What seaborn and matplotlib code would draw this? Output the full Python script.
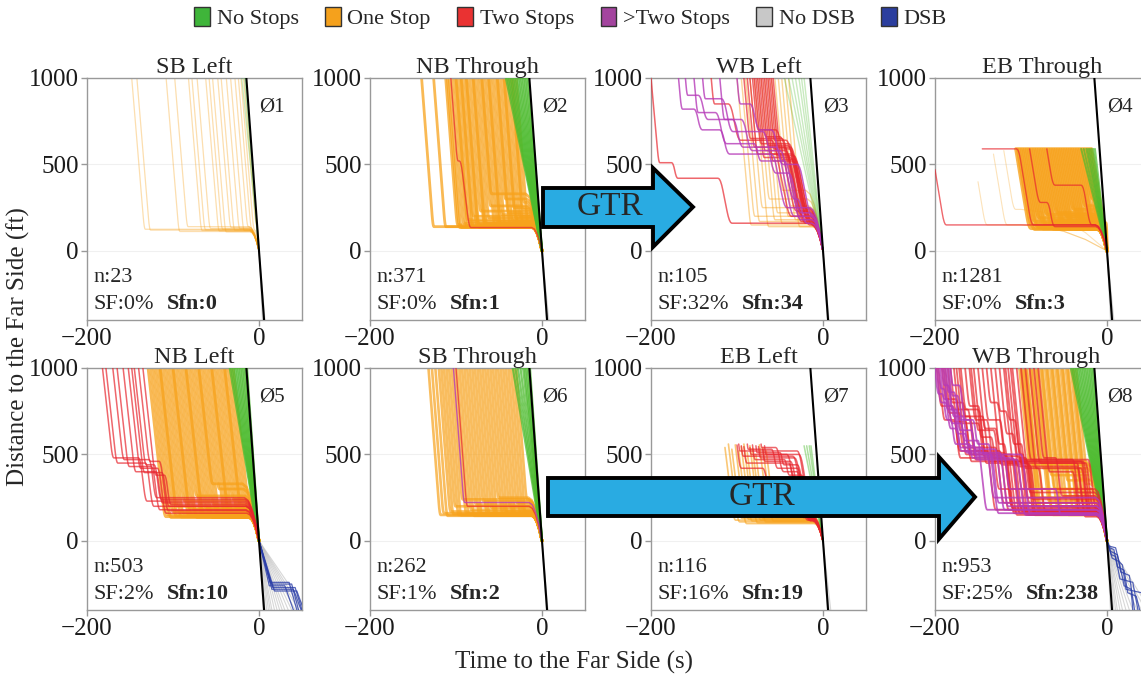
import numpy as np
import pandas as pd
import matplotlib
matplotlib.use("Agg")
import matplotlib.pyplot as plt
from matplotlib.patches import Patch, Polygon
import seaborn as sns

# ---------------- DATA ----------------
titles = ["SB Left", "NB Through", "WB Left", "EB Through",
          "NB Left", "SB Through", "EB Left", "WB Through"]
phases = ["Ø1", "Ø2", "Ø3", "Ø4", "Ø5", "Ø6", "Ø7", "Ø8"]
n_vals = [23, 371, 105, 1281, 503, 262, 116, 953]
sf_pct = [0, 0, 32, 0, 2, 1, 16, 25]
sfn_vals = [0, 1, 34, 3, 10, 2, 19, 238]

legend_labels = ["No Stops", "One Stop", "Two Stops", ">Two Stops", "No DSB", "DSB"]

# start distance of the trajectories (ft) and approach / between-stop speeds (ft/s)
panel_top = [1000, 1000, 1000, 590, 1000, 1000, 550, 1000]
panel_v = [60, 65, 55, 30, 45, 65, 40, 50]
panel_vmid = [40, 40, 25, 30, 40, 40, 30, 45]

# far-side reference line (time s, distance ft)
ref_t = [-14.7, 5.9]
ref_y = [1000, -400]

# --- Panel 1: SB Left
p1_one_t0 = [-148, -142, -108, -98, -82, -78, -72, -62, -58, -54, -48, -44, -38, -33, -28, -24, -21, -18]
p1_one_q = [125, 120, 112, 140, 118, 122, 130, 115, 125, 110, 135, 120, 128, 118, 140, 125, 122, 150]
p1_none_t0 = [-20, -17, -16]
p1_two = []
p1_multi = []
p1_exit = [4, 5, 6, 7]
p1_dsb = []

# --- Panel 2: NB Through
p2_one_t0 = [-140, -126, -112, -108, -105, -102, -99, -96, -93, -90, -87, -84, -81, -78, -75, -72, -69, -66,
             -63, -60, -57, -54, -51, -48, -45, -42, -39, -36, -33, -30, -110, -100, -94, -88, -80, -70,
             -62, -52, -44, -35]
p2_one_q = [140, 140, 150, 135, 160, 145, 180, 140, 200, 150, 135, 230, 160, 140, 190, 260, 145, 170,
            135, 210, 150, 300, 140, 175, 250, 145, 200, 160, 280, 150, 135, 170, 140, 155, 145, 330,
            140, 220, 190, 240]
p2_none_t0 = [-42, -40, -38, -36, -34, -32, -30, -28, -26, -24, -22, -20, -18, -16]
p2_two = [[-106, 1000, 520, -96, 135, -12]]
p2_multi = []
p2_exit = [5, 6, 7, 8]
p2_dsb = []

# --- Panel 3: WB Left
p3_one_t0 = [-100, -95, -90, -85, -80, -76, -72, -68, -64, -60, -56, -52, -48, -44, -40]
p3_one_q = [150, 200, 170, 250, 140, 300, 180, 220, 160, 350, 200, 260, 180, 140, 230]
p3_none_t0 = [-45, -40, -36, -32, -28, -25, -22]
p3_two = [
    [-200, 1000, 510, -176, 420, -122, 160, -14],
    [-92, 1000, 650, -48, 180, -14], [-88, 1000, 600, -45, 200, -15],
    [-85, 1000, 560, -42, 160, -13], [-82, 1000, 700, -55, 230, -16],
    [-80, 1000, 620, -40, 150, -13], [-78, 1000, 540, -38, 250, -17],
    [-76, 1000, 580, -44, 190, -15], [-74, 1000, 660, -50, 170, -14],
    [-72, 1000, 610, -41, 210, -15], [-70, 1000, 560, -36, 160, -13],
    [-68, 1000, 520, -35, 240, -16], [-66, 1000, 590, -39, 180, -14],
    [-64, 1000, 640, -43, 200, -15], [-62, 1000, 550, -34, 150, -13],
    [-60, 1000, 600, -38, 220, -15], [-58, 1000, 530, -33, 170, -14],
    [-130, 1000, 850, -110, 640, -60, 200, -14],
]
p3_multi = [
    [-168, 1000, 820, -150, 700, -120, 560, -60, 250, -15],
    [-160, 1000, 900, -145, 760, -105, 600, -55, 200, -14],
    [-150, 1000, 800, -125, 620, -80, 520, -45, 180, -13],
    [-140, 1000, 880, -118, 690, -70, 450, -40, 220, -15],
    [-120, 1000, 760, -95, 580, -50, 300, -30, 160, -13],
    [-100, 1000, 850, -85, 700, -60, 500, -30, 200, -14],
]
p3_exit = [5, 6, 7]
p3_dsb = []

# --- Panel 4: EB Through
p4_one_t0 = [-106, -104, -102, -100, -98, -96, -94, -92, -90, -88, -86, -84, -82, -80, -78, -76, -74, -72,
             -70, -68, -66, -64, -62, -60, -58, -56, -54, -52, -50, -48, -46, -44, -42, -40, -38, -36,
             -34, -32, -30, -28, -26, -24, -22, -20, -18]
p4_one_q = [130, 150, 125, 170, 140, 135, 190, 128, 160, 145, 132, 210, 150, 126, 175, 140, 138, 220,
            130, 155, 145, 128, 200, 135, 160, 150, 125, 240, 140, 130, 180, 135, 150, 128, 260, 145,
            132, 170, 140, 300, 135, 150, 190, 140, 160]
p4_none_t0 = [-30, -27, -24, -22, -20, -18, -16, -14]
p4_faint = [[-150, 400, 150, -100], [-132, 560, 150, -100], [-120, 580, 240, -100]]
p4_two = [[-200, 470, 150, -14], [-145, 590, 590, -105, 150, -14],
          [-70, 590, 380, -30, 150, -13], [-90, 590, 280, -70, 140, -13]]
p4_multi = []
p4_exit = [4, 5, 6, 7, 8]
p4_dsb = []

# --- Panel 5: NB Left
p5_one_t0 = [-129, -126, -123, -120, -117, -114, -111, -108, -105, -102, -99, -96, -93, -90, -87, -84,
             -81, -78, -75, -72, -69, -66, -63, -60, -57, -54, -51, -48, -45, -42, -39, -36, -33,
             -115, -100, -85, -70, -55, -40, -30]
p5_one_q = [140, 150, 135, 170, 145, 200, 138, 160, 230, 142, 150, 180, 136, 260, 155, 140,
            190, 148, 135, 210, 160, 140, 300, 150, 175, 138, 145, 240, 160, 135, 200, 150, 140,
            165, 185, 145, 330, 155, 170, 150]
p5_none_t0 = [-34, -32, -30, -28, -26, -24, -22, -20, -18, -16, -14]
p5_two = [
    [-182, 1000, 480, -140, 230, -16], [-178, 1000, 450, -132, 200, -15],
    [-170, 1000, 470, -128, 250, -17], [-165, 1000, 430, -125, 180, -15],
    [-158, 1000, 400, -120, 220, -16], [-152, 1000, 420, -118, 160, -14],
    [-148, 1000, 395, -113, 200, -15], [-145, 1000, 440, -122, 240, -16],
    [-140, 1000, 460, -116, 175, -15], [-135, 1000, 380, -110, 210, -16],
]
p5_multi = []
p5_exit = [5, 7, 9, 11, 13, 15, 18, 21, 24, 27, 30, 34, 38, 42, 46, 50, 55]
p5_dsb = [[0, 0, 14, -250, 38, -250, 46, -400], [0, 0, 16, -270, 42, -270, 50, -400],
          [0, 0, 12, -260, 30, -260, 40, -400], [0, 0, 18, -290, 44, -290, 52, -400],
          [0, 0, 13, -240, 35, -240, 44, -400], [0, 0, 15, -280, 40, -280, 49, -400]]

# --- Panel 6: SB Through
p6_one_t0 = [-132, -128, -124, -120, -117, -114, -111, -108, -105, -102, -99, -96, -93, -90, -87, -84,
             -81, -78, -75, -72, -69, -66, -63, -60, -57, -54, -51, -48, -45, -42, -39, -36, -33, -30]
p6_one_q = [150, 160, 145, 170, 155, 200, 150, 148, 240, 160, 152, 180, 145, 210, 158, 150,
            230, 162, 148, 190, 155, 150, 250, 160, 170, 148, 200, 155, 150, 220, 160, 175, 150, 240]
p6_none_t0 = [-34, -31, -28, -25, -22, -20, -18, -16, -14]
p6_two = [[-100, 1000, 200, -15]]
p6_multi = [[-103, 1000, 222, -15]]
p6_exit = [5, 6, 7]
p6_dsb = []

# --- Panel 7: EB Left
p7_one_t0 = [-114, -110, -106, -102, -98, -95, -92, -88, -85, -82, -78, -74, -70, -66]
p7_one_top = [540, 560, 530, 555, 520, 545, 560, 510, 550, 535, 500, 555, 540, 520]
p7_one_q = [120, 110, 130, 100, 125, 115, 140, 105, 120, 130, 110, 150, 115, 135]
p7_none_t0 = [-22, -19, -16, -14]
p7_two = [
    [-98, 560, 520, -30, 130, -12], [-95, 550, 490, -35, 120, -12],
    [-92, 545, 450, -40, 350, -28, 120, -12], [-88, 560, 530, -60, 420, -30, 130, -12],
    [-85, 540, 500, -28, 140, -13], [-82, 555, 470, -45, 380, -25, 125, -12],
    [-78, 550, 510, -50, 440, -30, 115, -12], [-75, 545, 480, -33, 130, -12],
    [-72, 560, 540, -55, 400, -30, 120, -12], [-70, 530, 460, -38, 135, -13],
    [-68, 550, 500, -42, 360, -28, 125, -12], [-100, 555, 420, -70, 300, -40, 140, -13],
]
p7_multi = []
p7_exit = [5, 7, 9]
p7_dsb = []

# --- Panel 8: WB Through
p8_one_t0 = [-102, -99, -96, -93, -90, -87, -84, -81, -78, -75, -72, -69, -66, -63, -60, -57, -54, -51,
             -48, -45, -42, -39, -36, -100, -94, -88, -82, -76, -70, -64, -58, -52, -46, -40, -97]
p8_one_q = [150, 440, 180, 300, 160, 420, 230, 150, 380, 200, 170, 460, 260, 150, 350, 190, 400, 160,
            280, 220, 170, 330, 150, 250, 170, 450, 200, 300, 160, 420, 240, 180, 360, 200, 160]
p8_none_t0 = [-42, -40, -38, -36, -34, -32, -30, -28, -26, -24, -22, -20, -18, -16]
p8_two = [
    [-198, 1000, 780, -180, 480, -120, 200, -12], [-190, 1000, 740, -172, 500, -112, 160, -12],
    [-185, 1000, 800, -168, 460, -100, 250, -13], [-175, 1000, 720, -160, 520, -125, 180, -12],
    [-170, 1000, 760, -150, 450, -105, 300, -14], [-160, 1000, 700, -140, 480, -115, 150, -12],
    [-150, 1000, 650, -130, 440, -98, 220, -13], [-140, 1000, 800, -128, 470, -108, 170, -12],
    [-130, 1000, 750, -118, 460, -30, 160, -12], [-120, 1000, 700, -108, 450, -25, 200, -13],
    [-115, 1000, 480, -95, 160, -12], [-110, 1000, 460, -28, 150, -12],
    [-105, 1000, 440, -90, 200, -13], [-100, 1000, 470, -22, 180, -12],
    [-95, 1000, 420, -80, 170, -12], [-90, 1000, 450, -35, 140, -12],
    [-85, 1000, 480, -60, 260, -14], [-80, 1000, 400, -40, 150, -12],
    [-155, 1000, 600, -135, 300, -100, 150, -12], [-135, 1000, 560, -120, 160, -12],
    [-196, 1000, 700, -178, 520, -140, 180, -12], [-192, 1000, 820, -176, 540, -130, 220, -12],
    [-188, 1000, 690, -165, 500, -118, 170, -12], [-182, 1000, 760, -162, 470, -110, 200, -13],
    [-178, 1000, 680, -150, 490, -102, 150, -12], [-172, 1000, 720, -145, 460, -96, 280, -14],
    [-165, 1000, 780, -150, 510, -120, 190, -12], [-158, 1000, 640, -132, 470, -94, 240, -13],
    [-145, 1000, 700, -125, 450, -92, 160, -12], [-125, 1000, 620, -110, 430, -35, 180, -12],
    [-118, 1000, 560, -100, 470, -40, 200, -12], [-112, 1000, 500, -98, 420, -30, 150, -12],
]
p8_multi = [
    [-200, 1000, 850, -192, 700, -182, 560, -160, 480, -110, 200, -12],
    [-198, 1000, 800, -188, 650, -175, 520, -150, 180, -12],
    [-196, 1000, 880, -190, 760, -178, 540, -145, 500, -100, 160, -12],
    [-194, 1000, 820, -186, 680, -170, 510, -140, 250, -13],
    [-192, 1000, 900, -185, 720, -168, 550, -155, 470, -105, 150, -12],
    [-190, 1000, 780, -180, 620, -165, 500, -135, 220, -12],
    [-188, 1000, 860, -178, 700, -160, 530, -130, 180, -12],
    [-186, 1000, 760, -176, 640, -158, 490, -120, 300, -60, 150, -12],
    [-184, 1000, 840, -174, 580, -150, 510, -125, 200, -12],
    [-182, 1000, 900, -172, 700, -156, 560, -138, 160, -12],
]
p8_exit = [4, 6, 8, 10, 12, 15, 18, 22, 26, 30, 35, 40, 45, 50]
p8_dsb = [[0, 0, 4, -60, 12, -80, 16, -180, 26, -200, 32, -400],
          [0, 0, 3, -40, 8, -50, 12, -150, 20, -170, 24, -300, 34, -320, 38, -400],
          [0, 0, 5, -80, 10, -90, 15, -220, 30, -240, 36, -400],
          [0, 0, 2, -30, 10, -40, 14, -120, 18, -140, 22, -280, 40, -300, 44, -400],
          [0, 0, 6, -100, 14, -120, 20, -260, 28, -280, 30, -400]]

# ---------------- STYLE ----------------
sns.set_theme(style="ticks")
plt.rcParams["font.family"] = ["Liberation Serif", "DejaVu Serif"]
plt.rcParams["axes.unicode_minus"] = True

C_NONE, C_ONE, C_TWO, C_MULTI = "#4cbb2e", "#f7a21b", "#e8262e", "#b63ab8"
C_NODSB, C_DSB = "#bdbdbd", "#2b3ea8"
LEG_COLORS = ["#3fb53a", "#f5a11c", "#ea3232", "#a3449e", "#c8c8c8", "#2b3e9e"]

S = [0.0, 0.25, 0.5, 0.75, 1.0]


def approach(t0, y0, q, v):
    d = y0 - q
    if d <= 1:
        return [(t0, y0)]
    db = min(70.0, d / 2)
    T = 2 * db / v
    tb = t0 + (d - db) / v
    pts = [(t0, y0)]
    for s in S:
        pts.append((tb + s * T, q + db * (1 - s) ** 2))
    return pts


def move(tp, yp, q, v):
    d = yp - q
    if d <= 1:
        return [(tp, yp)]
    db = min(70.0, d / 2)
    T = 2 * db / v
    tc = (d - 2 * db) / v
    pts = [(tp + s * T, yp - db * s * s) for s in S]
    t1 = tp + T + tc
    pts += [(t1 + s * T, q + db * (1 - s) ** 2) for s in S]
    return pts


def discharge(tl, q):
    return [(tl * (1 - s), q * (1 - s * s)) for s in S]


def leave_time(q):
    return -(6 + q / 25.0)


def one_path(t0, top, q, v):
    pts = approach(t0, top, q, v)
    tl = max(leave_time(q), pts[-1][0])
    pts.append((tl, q))
    return pts + discharge(tl, q)


def multi_path(rec, v, vmid):
    t0, top = rec[0], rec[1]
    stops = rec[2:]
    pts = approach(t0, top, stops[0], v)
    tl = max(stops[1], pts[-1][0])
    pts.append((tl, stops[0]))
    prev_q = stops[0]
    for k in range(2, len(stops), 2):
        q = stops[k]
        seg = move(tl, prev_q, q, vmid)
        pts += seg
        tl = max(stops[k + 1], pts[-1][0])
        pts.append((tl, q))
        prev_q = q
    return pts + discharge(tl, prev_q)


def draw(ax, paths, color, alpha, lw, z):
    if not paths:
        return
    rows = []
    for i, p in enumerate(paths):
        for (t, y) in p:
            rows.append((i, t, y))
    df = pd.DataFrame(rows, columns=["uid", "t", "y"])
    sns.lineplot(data=df, x="t", y="y", units="uid", estimator=None, sort=False,
                 color=color, alpha=alpha, lw=lw, ax=ax, legend=False, zorder=z)


panels = [
    dict(one_t0=p1_one_t0, one_q=p1_one_q, none_t0=p1_none_t0, two=p1_two, multi=p1_multi, exit=p1_exit, dsb=p1_dsb),
    dict(one_t0=p2_one_t0, one_q=p2_one_q, none_t0=p2_none_t0, two=p2_two, multi=p2_multi, exit=p2_exit, dsb=p2_dsb),
    dict(one_t0=p3_one_t0, one_q=p3_one_q, none_t0=p3_none_t0, two=p3_two, multi=p3_multi, exit=p3_exit, dsb=p3_dsb),
    dict(one_t0=p4_one_t0, one_q=p4_one_q, none_t0=p4_none_t0, two=p4_two, multi=p4_multi, exit=p4_exit, dsb=p4_dsb,
         faint=p4_faint),
    dict(one_t0=p5_one_t0, one_q=p5_one_q, none_t0=p5_none_t0, two=p5_two, multi=p5_multi, exit=p5_exit, dsb=p5_dsb),
    dict(one_t0=p6_one_t0, one_q=p6_one_q, none_t0=p6_none_t0, two=p6_two, multi=p6_multi, exit=p6_exit, dsb=p6_dsb),
    dict(one_t0=p7_one_t0, one_q=p7_one_q, one_top=p7_one_top, none_t0=p7_none_t0, two=p7_two, multi=p7_multi,
         exit=p7_exit, dsb=p7_dsb),
    dict(one_t0=p8_one_t0, one_q=p8_one_q, none_t0=p8_none_t0, two=p8_two, multi=p8_multi, exit=p8_exit, dsb=p8_dsb),
]
one_alpha = [0.35, 0.75, 0.45, 0.8, 0.75, 0.7, 0.6, 0.7]
one_lw = [0.9, 2.0, 1.0, 2.4, 2.0, 1.9, 1.2, 1.8]
none_alpha = [0.3, 0.75, 0.3, 0.7, 0.75, 0.75, 0.45, 0.75]
none_lw = [0.9, 1.6, 1.0, 1.4, 1.6, 1.6, 1.1, 1.6]
stop_lw = [1.0, 1.0, 1.1, 1.0, 1.1, 1.0, 1.1, 1.3]
title_x = [0.5, 0.5, 0.5, 0.5, 0.5, 0.5, 0.5, 0.47]

# ---------------- FIGURE ----------------
W, H = 1141, 679
fig = plt.figure(figsize=(W / 100, H / 100), dpi=100)

lefts_px = [87, 370, 651, 935]
ax_w = 215 / W
ax_h = 242 / H
bottoms = [1 - 320 / H, 1 - 610 / H]

for idx, pdat in enumerate(panels):
    r, c = divmod(idx, 4)
    ax = fig.add_axes([lefts_px[c] / W, bottoms[r], ax_w, ax_h])
    top = panel_top[idx]
    v = panel_v[idx]
    vmid = panel_vmid[idx]

    # after far side: no DSB
    draw(ax, [[(0, 0), (te, -400)] for te in pdat["exit"]], C_NODSB, 0.6, 0.8, 1)
    # one stop
    tops = pdat.get("one_top", [top] * len(pdat["one_t0"]))
    draw(ax, [one_path(t0, tp, q, v) for t0, tp, q in zip(pdat["one_t0"], tops, pdat["one_q"])],
         C_ONE, one_alpha[idx], one_lw[idx], 2)
    if "faint" in pdat:
        draw(ax, [multi_path(rec, v, vmid) for rec in pdat["faint"]], C_ONE, 0.3, 0.8, 2)
    # no stops
    draw(ax, [[(t0, top), (0, 0)] for t0 in pdat["none_t0"]], C_NONE, none_alpha[idx], none_lw[idx], 3)
    # two stops
    draw(ax, [multi_path(rec, v, vmid) for rec in pdat["two"]], C_TWO, 0.7, stop_lw[idx], 4)
    # more than two stops
    draw(ax, [multi_path(rec, v, vmid) for rec in pdat["multi"]], C_MULTI, 0.8, stop_lw[idx], 5)
    # DSB
    draw(ax, [list(zip(rec[0::2], rec[1::2])) for rec in pdat["dsb"]], C_DSB, 0.8, 0.9, 5)
    # far-side reference line
    sns.lineplot(x=ref_t, y=ref_y, color="black", lw=1.5, ax=ax, zorder=6, sort=False)

    ax.set_xlim(-200, 50)
    ax.set_ylim(-400, 1000)
    ax.set_xticks([-200, 0])
    ax.set_yticks([0, 500, 1000])
    ax.set_xlabel("")
    ax.set_ylabel("")
    ax.grid(axis="y", color="#f0f0f0", lw=0.8, zorder=0)
    ax.set_axisbelow(True)
    for sp in ax.spines.values():
        sp.set_color("#999999")
        sp.set_linewidth(1.0)
        sp.set_visible(True)
    ax.tick_params(axis="both", length=4, width=1, color="#999999", labelcolor="#1a1a1a",
                   labelsize=18, pad=2)
    ax.set_title(titles[idx], fontsize=17.5, pad=0.5, x=title_x[idx])

    ax.text(0.80, 0.88, phases[idx], transform=ax.transAxes, fontsize=15,
            ha="left", va="center", zorder=8)
    ax.text(0.03, 0.175, f"n:{n_vals[idx]}", transform=ax.transAxes, fontsize=16,
            ha="left", va="center", zorder=8)
    sf = ax.text(0.03, 0.065, f"SF:{sf_pct[idx]}%", transform=ax.transAxes, fontsize=16,
                 ha="left", va="center", zorder=8)
    ax.annotate(f"Sfn:{sfn_vals[idx]}", xy=(1, 0.5), xycoords=sf, xytext=(9, 0),
                textcoords="offset points", fontsize=16, fontweight="bold",
                ha="left", va="center", zorder=8)


def P(x, y):
    return (x / W, 1 - y / H)


top_arrow_px = [(543, 188), (653, 188), (653, 168), (693, 207), (653, 247), (653, 227), (543, 227)]
bot_arrow_px = [(548, 478), (939, 478), (939, 457), (975, 497), (939, 539), (939, 516), (548, 516)]
for pts_px in (top_arrow_px, bot_arrow_px):
    poly = Polygon([P(*p) for p in pts_px], closed=True, facecolor="#29abe2",
                   edgecolor="black", lw=2.8, joinstyle="miter", transform=fig.transFigure, zorder=10)
    fig.add_artist(poly)
fig.text(*P(610, 207), "GTR", fontsize=24, ha="center", va="center", zorder=11)
fig.text(*P(762, 497), "GTR", fontsize=24, ha="center", va="center", zorder=11)

handles = [Patch(facecolor=c, edgecolor="#333333", lw=1.0, label=l)
           for c, l in zip(LEG_COLORS, legend_labels)]
fig.legend(handles=handles, loc="center", bbox_to_anchor=(0.5, 1 - 18 / H), ncol=6,
           frameon=False, fontsize=16, handlelength=0.7, handleheight=0.9,
           handletextpad=0.3, columnspacing=1.2)

fig.text(0.016, 0.49, "Distance to the Far Side (ft)", rotation=90, fontsize=18,
         ha="center", va="center")
fig.text(0.503, 0.024, "Time to the Far Side (s)", fontsize=18, ha="center", va="center")

fig.savefig("out.png", dpi=100)
